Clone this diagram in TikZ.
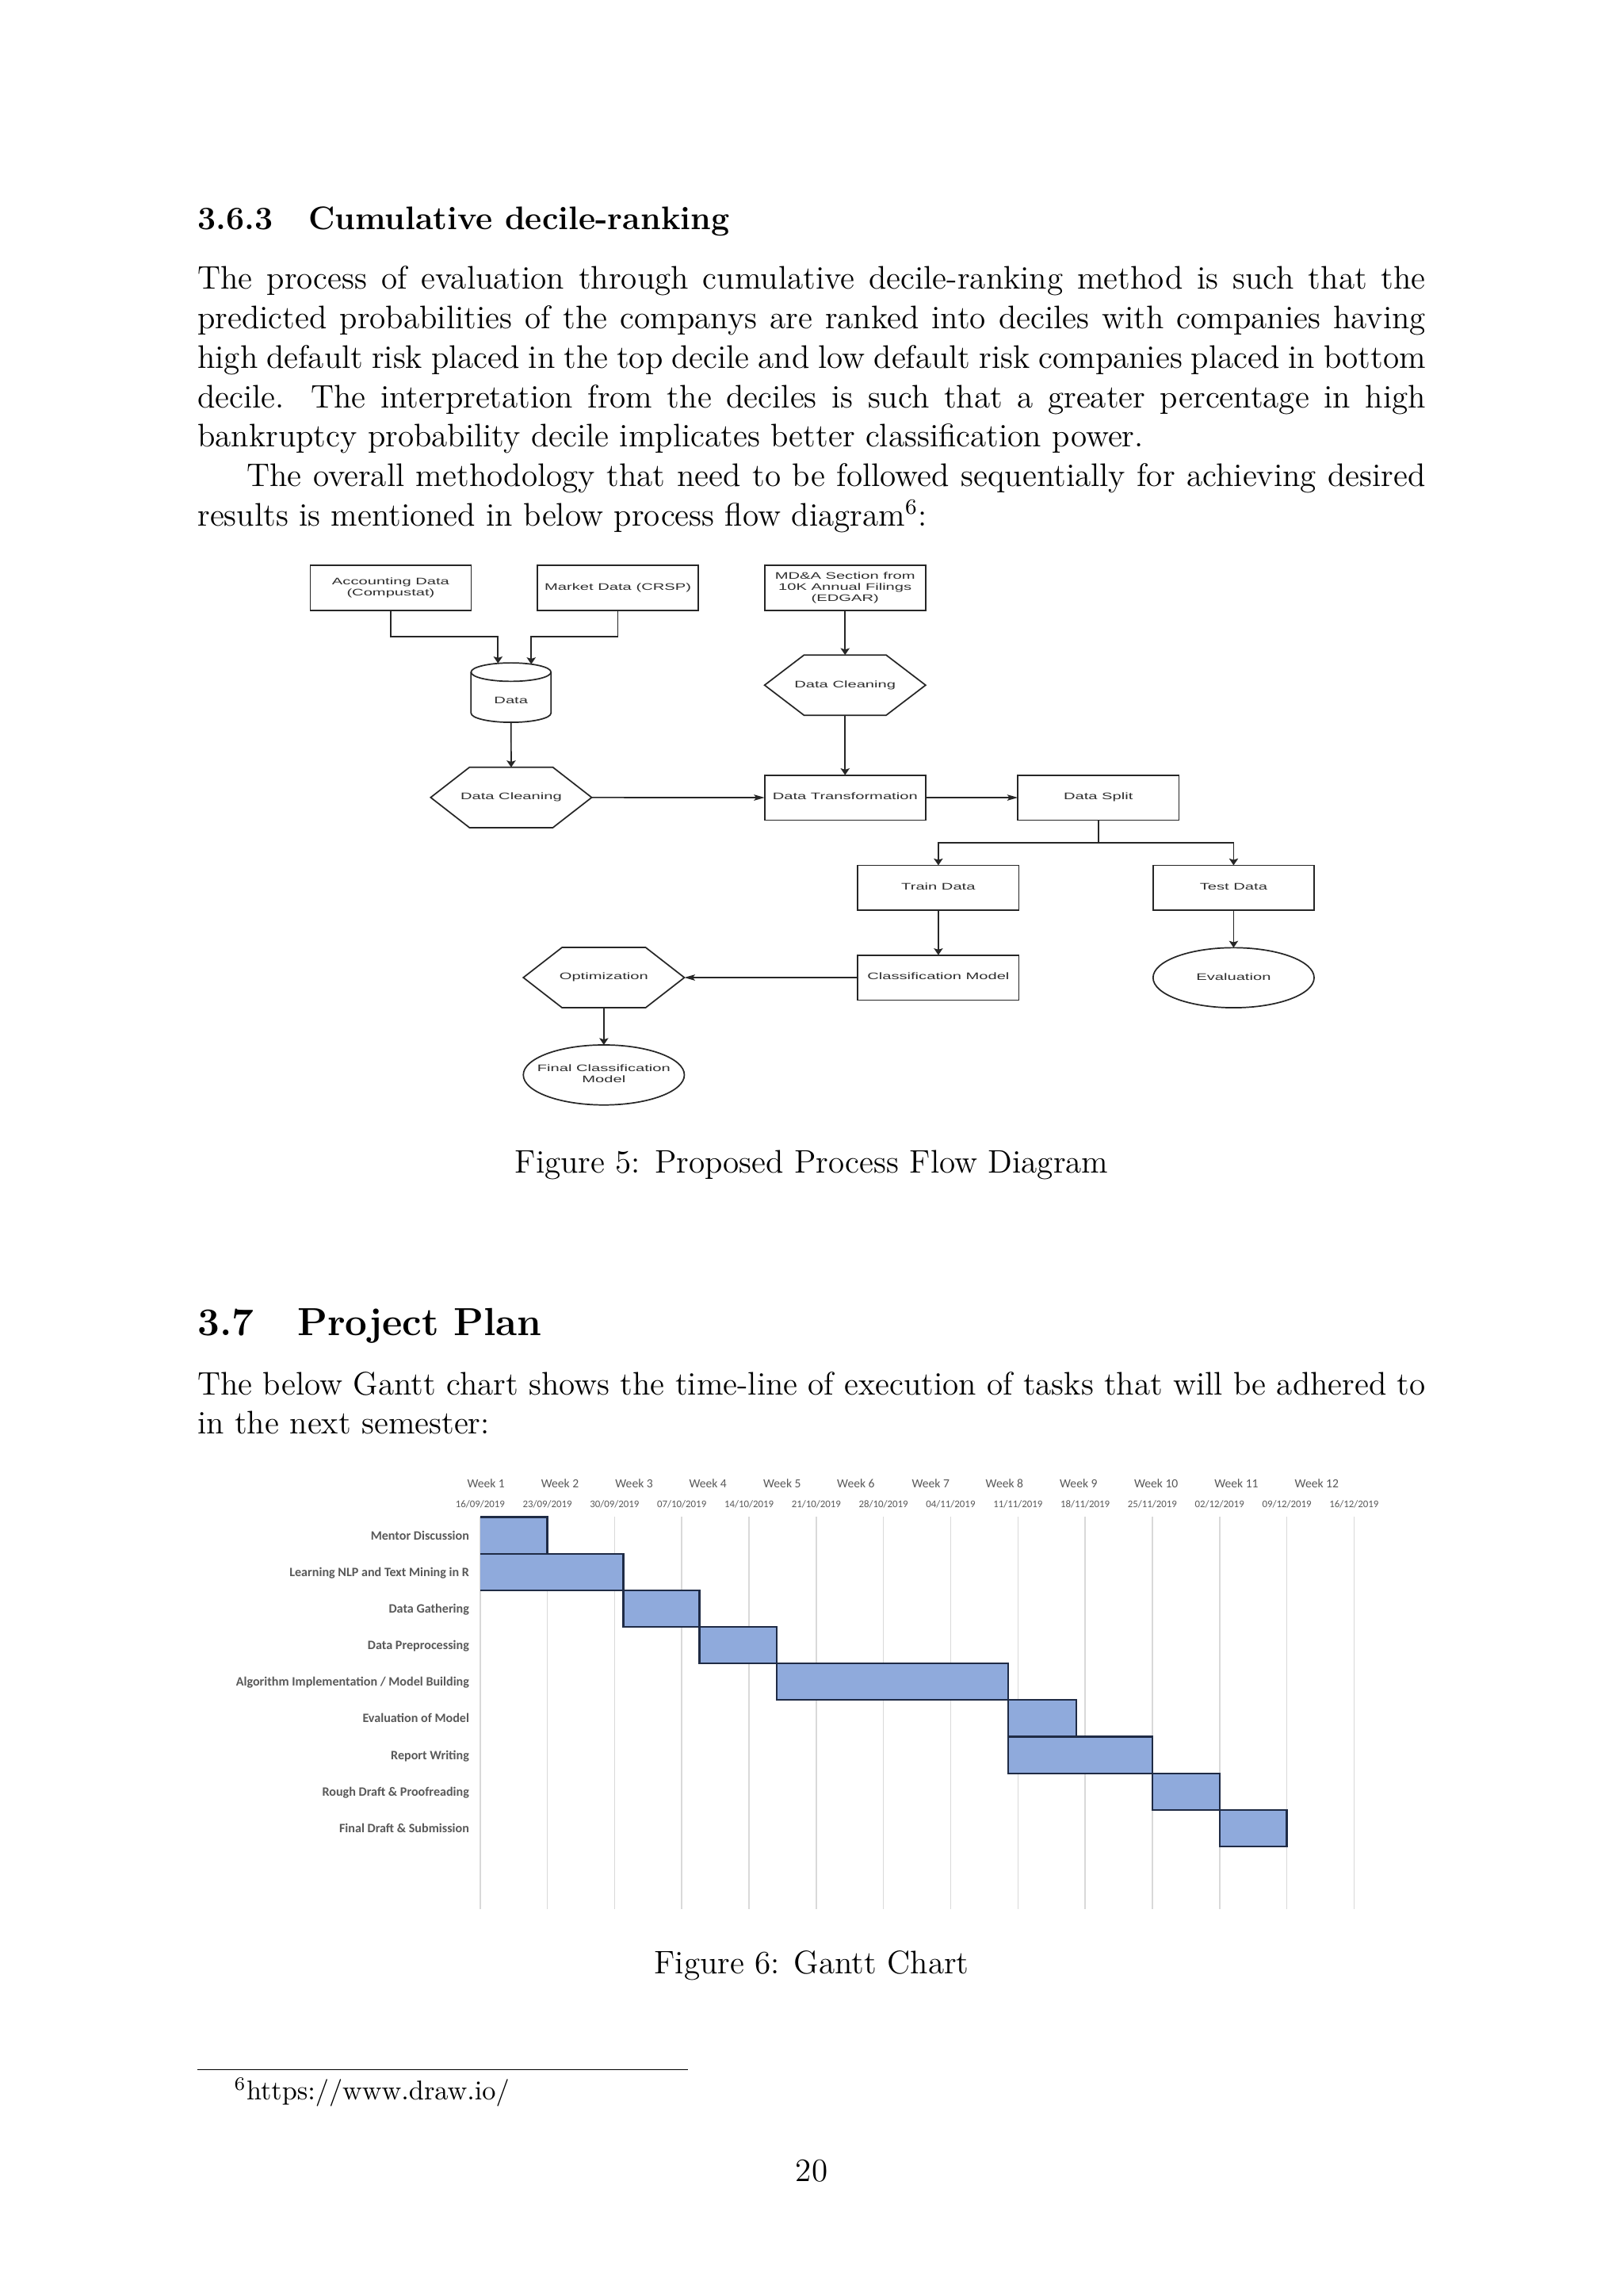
\documentclass[tikz,border=0pt]{standalone}
\usepackage{fontspec}
\usepackage{graphicx}
\usetikzlibrary{calc,arrows.meta,shapes.geometric}
\newfontfamily\drawfont{Liberation Sans}
\newfontfamily\xlfont{Carlito}
\definecolor{linecol}{HTML}{262626}
\definecolor{ftcol}{HTML}{2E2E2E}
\definecolor{barfill}{HTML}{8FAADC}
\definecolor{barline}{HTML}{1F2B45}
\definecolor{gridcol}{HTML}{D9D9D9}
\definecolor{axtext}{HTML}{595959}
\newcommand\ft[1]{\scalebox{1.68}[1]{\drawfont\fontsize{3.5pt}{4.1pt}\selectfont\color{ftcol}\begin{tabular}{@{}c@{}}#1\end{tabular}}}
\newcommand\jline[1]{\makebox[452pt][s]{#1}}
\newcommand\hexpath[2]{\draw[shp] (#1.west) -- ($(#1.north west)+(#2,0)$) -- ($(#1.north east)+(-#2,0)$) -- (#1.east) -- ($(#1.south east)+(-#2,0)$) -- ($(#1.south west)+(#2,0)$) -- cycle;}
\begin{document}
\begin{tikzpicture}[x=0.018936cm, y=-0.018936cm,
  every node/.style={inner sep=0pt, outer sep=0pt},
  box/.style={draw=linecol, line width=0.5pt, minimum width=59.27pt, minimum height=16.54pt},
  hexb/.style={minimum width=59.27pt, minimum height=22.2pt},
  cylb/.style={minimum width=29.42pt, minimum height=21.87pt},
  ell/.style={ellipse, draw=linecol, line width=0.5pt, minimum width=59.27pt, minimum height=22.09pt},
  shp/.style={draw=linecol, line width=0.5pt, line join=miter},
  conn/.style={draw=linecol, line width=0.5pt},
  arrV/.style={conn, -{Stealth[length=2.5pt, width=3.3pt, inset=0.5pt]}},
  arrH/.style={conn, -{Stealth[length=3.9pt, width=2.2pt, inset=0.8pt]}},
  txt/.style={font=\fontsize{12pt}{14.5pt}\selectfont, anchor=base west},
  ctxt/.style={font=\fontsize{12pt}{14.5pt}\selectfont, anchor=base},
  gl/.style={draw=gridcol, line width=0.45pt},
  barln/.style={draw=barline, line width=0.65pt},
  task/.style={font=\xlfont\bfseries\fontsize{4.7pt}{5.5pt}\selectfont, text=axtext, anchor=base east},
  wk/.style={font=\xlfont\fontsize{4.55pt}{5.5pt}\selectfont, text=axtext, anchor=base},
  datelbl/.style={font=\xlfont\fontsize{3.75pt}{4.5pt}\selectfont, text=axtext, anchor=base}]
\fill[white] (0,0) rectangle (1109,1568);
\useasboundingbox (0,0) rectangle (1109,1568);

% ---------- text, top ----------
\node[txt] (h363) at (135,156.6) {\bfseries 3.6.3\quad\hspace{1pt}Cumulative decile-ranking};
\node[txt] (l1) at (135,197.6) {\jline{The process of evaluation through cumulative decile-ranking method is such that the}};
\node[txt] (l2) at (135,224.5) {\jline{predicted probabilities of the companys are ranked into deciles with companies having}};
\node[txt] (l3) at (135,251.4) {\jline{high default risk placed in the top decile and low default risk companies placed in bottom}};
\node[txt] (l4) at (135,278.3) {\jline{decile.  The interpretation from the deciles is such that a greater percentage in high}};
\node[txt] (l5) at (135,305.2) {bankruptcy probability decile implicates better classification power.};
\node[txt] (l6) at (135,332.1) {\hspace*{18pt}\makebox[434pt][s]{The overall methodology that need to be followed sequentially for achieving desired}};
\node[txt] (l7) at (135,359.0) {results is mentioned in below process flow diagram\textsuperscript{6}:};

% ---------- flow diagram ----------
\node[box] (acc) at (266.9,401.4) {\ft{Accounting Data\\(Compustat)}};
\node[box] (mkt) at (422.1,401.4) {\ft{Market Data (CRSP)}};
\node[box] (mda) at (577.3,401.4) {\ft{MD\&A Section from\\10K Annual Filings\\(EDGAR)}};
\node[hexb] (dcR) at (577.3,467.9) {\ft{Data Cleaning}};
\hexpath{dcR}{27}
\node[cylb] (data) at (349.1,473) {};
\draw[shp] (321.8,459) -- (321.8,487) arc[start angle=180, end angle=0, x radius=27.3, y radius=6.3] -- (376.4,459);
\draw[shp] (349.1,459) ellipse [x radius=27.3, y radius=6.3];
\node (datatxt) at (349.1,479.2) {\ft{Data}};
\node[hexb] (dcL) at (349.2,544.6) {\ft{Data Cleaning}};
\hexpath{dcL}{26.5}
\node[box] (dt) at (577.3,544.7) {\ft{Data Transformation}};
\node[box] (ds) at (750.3,544.7) {\ft{Data Split}};
\node[box] (tr) at (641,606.3) {\ft{Train Data}};
\node[box] (te) at (842.7,606.3) {\ft{Test Data}};
\node[box] (cm) at (641,667.6) {\ft{Classification Model}};
\node[ell, label={center:{\ft{Evaluation}}}] (ev) at (842.7,667.7) {};
\node[hexb] (op) at (412.5,667.6) {\ft{Optimization}};
\hexpath{op}{26.5}
\node[ell, label={center:{\ft{Final Classification\\Model}}}] (fc) at (412.5,734.1) {};

\coordinate (jA) at (266.9,434.7);
\coordinate (cinA) at (340.2,453.0);
\coordinate (jB) at (422.1,434.7);
\coordinate (cinB) at (362.9,453.6);
\coordinate (jS) at (750.3,575.5);
\draw[arrV] (acc.south) -- (jA) -| (cinA);
\draw[arrV] (mkt.south) -- (jB) -| (cinB);
\draw[arrV] (data.south) -- (dcL.north);
\draw[arrH] (dcL.east) -- (dt.west);
\draw[arrV] (mda.south) -- (dcR.north);
\draw[arrV] (dcR.south) -- (dt.north);
\draw[arrH] (dt.east) -- (ds.west);
\draw[conn] (ds.south) -- (jS);
\draw[arrV] (jS) -| (tr.north);
\draw[arrV] (jS) -| (te.north);
\draw[arrV] (tr.south) -- (cm.north);
\draw[arrV] (te.south) -- (ev.north);
\draw[arrH] (cm.west) -- (op.east);
\draw[arrV] (op.south) -- (fc.north);

\node[ctxt] (cap5) at (554.5,801) {Figure 5: Proposed Process Flow Diagram};

% ---------- section 3.7 ----------
\node[txt, font=\fontsize{14.4pt}{18pt}\selectfont\bfseries] (h37) at (135,912) {3.7\quad\hspace{1.6pt}Project Plan};
\node[txt] (m1) at (135,952.6) {\jline{The below Gantt chart shows the time-line of execution of tasks that will be adhered to}};
\node[txt] (m2) at (135,979.4) {in the next semester:};

% ---------- Gantt chart ----------
\foreach \k in {0,...,13} {\draw[gl] ({328+45.92*\k},1036) -- ({328+45.92*\k},1304);}
\foreach \w/\xx in {1/332,2/382.5,3/433.2,4/483.6,5/534.3,6/584.7,7/635.8,8/686.2,9/736.8,10/789.8,11/844.6,12/899.5}
  {\node[wk] (wk\w) at (\xx,1015.9) {Week \w};}
\foreach \d [count=\k from 0] in {16/09/2019,23/09/2019,30/09/2019,07/10/2019,14/10/2019,21/10/2019,28/10/2019,04/11/2019,11/11/2019,18/11/2019,25/11/2019,02/12/2019,09/12/2019,16/12/2019}
  {\node[datelbl] (date\k) at ({328+45.92*\k},1029.4) {\d};}
\foreach \t [count=\i from 0] in {Mentor Discussion,Learning NLP and Text Mining in R,Data Gathering,Data Preprocessing,Algorithm Implementation / Model Building,Evaluation of Model,Report Writing,Rough Draft \& Proofreading,Final Draft \& Submission}
  {\node[task] (task\i) at (320.5,{1051.5+25*\i}) {\t};}

\fill[barfill] (328,1036) rectangle (373.9,1061);
\fill[barfill] (328,1061) rectangle (425.8,1086);
\fill[barfill] (425.8,1086) rectangle (477.8,1111);
\fill[barfill] (477.8,1111) rectangle (530.5,1136);
\fill[barfill] (530.5,1136) rectangle (688.5,1161);
\fill[barfill] (688.5,1161) rectangle (735.1,1186);
\fill[barfill] (688.5,1186) rectangle (787.2,1211);
\fill[barfill] (787.2,1211) rectangle (833.1,1236);
\fill[barfill] (833.1,1236) rectangle (879.0,1261);
\draw[barln] (328,1036) -- (373.9,1036) -- (373.9,1061) -- (328,1061);
\draw[barln] (373.9,1061) -- (425.8,1061) -- (425.8,1086) -- (328,1086);
\draw[barln] (425.8,1086) rectangle (477.8,1111);
\draw[barln] (477.8,1111) rectangle (530.5,1136);
\draw[barln] (530.5,1136) rectangle (688.5,1161);
\draw[barln] (688.5,1161) rectangle (735.1,1186);
\draw[barln] (688.5,1186) rectangle (787.2,1211);
\draw[barln] (787.2,1211) rectangle (833.1,1236);
\draw[barln] (833.1,1236) rectangle (879.0,1261);

\node[ctxt] (cap6) at (554.5,1348) {Figure 6: Gantt Chart};

% ---------- footnote and page number ----------
\draw[line width=0.4pt] (135,1413.3) -- (470.2,1413.3);
\node[anchor=base west, font=\fontsize{10pt}{12pt}\selectfont] (fn) at (135,1434) {\makebox[18pt][r]{\textsuperscript{6}}https://www.draw.io/};
\node[ctxt] (pg) at (554.5,1489.5) {20};
\end{tikzpicture}
\end{document}
